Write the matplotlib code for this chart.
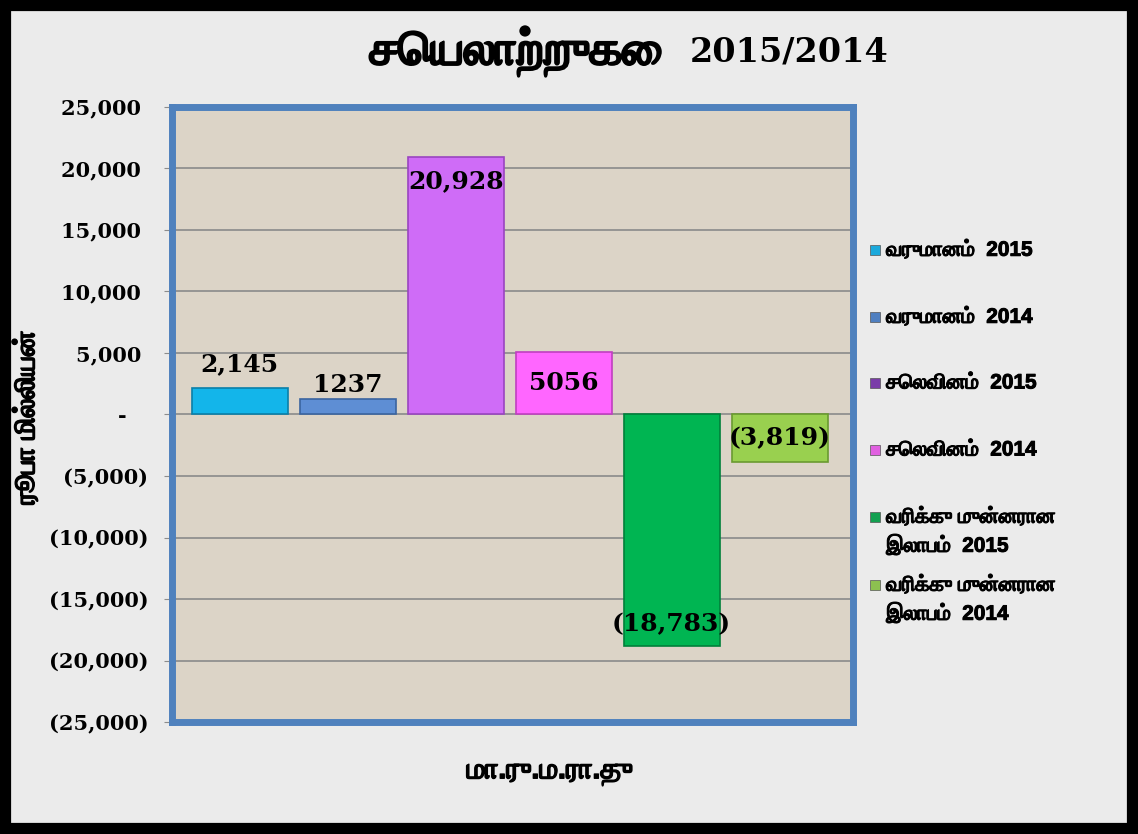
import numpy as np
import matplotlib
matplotlib.use("Agg")
import matplotlib.pyplot as plt
import matplotlib.patheffects as pe
from matplotlib import font_manager
from matplotlib.patches import Rectangle
from matplotlib.ticker import FuncFormatter

# ── Data ───────────────────────────────────────────────────────
series_names = ["வருமானம்  2015", "வருமானம்  2014", "செலவினம்  2015",
                "செலவினம்  2014", "வரிக்கு முன்னரான\nஇலாபம்  2015",
                "வரிக்கு முன்னரான\nஇலாபம்  2014"]
values = [2145, 1237, 20928, 5056, -18783, -3819]
value_labels = ["2,145", "1237", "20,928", "5056", "(18,783)", "(3,819)"]
bar_colors = ["#13B5EA", "#5E8ED4", "#CF6CF7", "#FF66FF", "#00B552", "#99D04F"]
edge_colors = ["#0A7FA8", "#3A64A0", "#9A45C0", "#C040C0", "#00803A", "#6A9A30"]
legend_colors = ["#1BA9DC", "#4F7FC0", "#7A3CA8", "#E060E0", "#12A050", "#8CC050"]
yticks = np.arange(-25000, 25001, 5000)


# ── Fonts: look for something that covers Tamil ───────────────
def find_tamil_font():
    try:
        from fontTools.ttLib import TTFont
    except Exception:
        return None
    found = []
    for f in font_manager.fontManager.ttflist:
        try:
            tt = TTFont(f.fname, fontNumber=0, lazy=True)
            cmap = tt.getBestCmap()
            if cmap and 0x0B9A in cmap:
                found.append(f)
        except Exception:
            continue
    if not found:
        return None
    bold = [f for f in found if f.weight in ("bold", 700, "heavy", 800, 900)]
    return (bold or found)[0].name


tamil = find_tamil_font()
sans = ["Liberation Sans", tamil] if tamil else ["Liberation Sans"]
serif = ["DejaVu Serif"]


def heavy(w):
    return [pe.withStroke(linewidth=w, foreground="black")]


W, H = 1138, 834

# ── Plot ───────────────────────────────────────────────────────
fig = plt.figure(figsize=(W / 100, H / 100), dpi=100, facecolor="#EBEBEB")
ax = fig.add_axes([0.151, 0.134, 0.5986, 0.738])
ax.set_facecolor("#DCD4C7")

x = np.arange(len(values))
ax.bar(x, values, width=0.89, color=bar_colors, edgecolor=edge_colors,
       linewidth=1.2, zorder=3)

ax.set_ylim(-25000, 25000)
ax.set_xlim(-0.63, 5.68)
ax.set_yticks(yticks)


def acct(v, pos):
    if v == 0:
        return "-   "
    if v < 0:
        return f"({abs(v):,.0f})"
    return f"{v:,.0f} "


ax.yaxis.set_major_formatter(FuncFormatter(acct))
for lab in ax.get_yticklabels():
    lab.set_fontfamily(serif)
    lab.set_fontweight("bold")
    lab.set_fontsize(15)
ax.tick_params(axis="y", length=6, color="#8C8C8C", pad=11)
ax.set_xticks([])
ax.grid(axis="y", color="#8A8A8A", linewidth=1.2, zorder=1)
for sp in ax.spines.values():
    sp.set_color("#4F81BD")
    sp.set_linewidth(5)

# Data labels
label_pos = [(2145, 1000, "bottom"), (1237, 150, "bottom"),
             (20928, -1000, "top"), (5056 / 2, 0, "center"),
             (-18783, 800, "bottom"), (-3819 / 2, 0, "center")]
for xi, (yv, off, va), txt in zip(x, label_pos, value_labels):
    ax.text(xi, yv + off, txt, ha="center", va=va, fontsize=18,
            fontweight="bold", family=serif, zorder=5)

# Legend (placed by hand, Excel-style spacing)
legend_y = [250, 317, 383, 450, 517, 585]
for name, c, yp in zip(series_names, legend_colors, legend_y):
    fig.patches.append(Rectangle((870 / W, 1 - (yp + 5) / H), 10 / W, 10 / H,
                                 transform=fig.transFigure, facecolor=c,
                                 edgecolor="#555555", linewidth=0.5))
    for i, line in enumerate(name.split("\n")):
        fig.text(886 / W, 1 - (yp + 28 * i) / H, line, ha="left", va="center",
                 fontsize=15, fontweight="bold", family=sans,
                 path_effects=heavy(0.7))

# Titles
fig.text(0.582, 0.938, "செயலாற்றுகை", ha="right", va="center",
         fontsize=34, fontweight="bold", family=sans, path_effects=heavy(1.4))
fig.text(0.606, 0.938, "2015/2014", ha="left", va="center",
         fontsize=24, fontweight="bold", family=serif)
fig.text(0.483, 0.074, "மா.ரு.ம.ரா.து", ha="center", va="center",
         fontsize=21, fontweight="bold", family=sans, path_effects=heavy(0.9))
fig.text(0.024, 0.499, "ரூபா மில்லியன்", ha="center", va="center",
         rotation=90, fontsize=20, fontweight="bold", family=sans,
         path_effects=heavy(0.9))

# Outer black frame
fig.patches.append(Rectangle((0, 0), 1, 1, transform=fig.transFigure,
                             fill=False, edgecolor="black", linewidth=16))

fig.savefig("out.png", dpi=100, facecolor=fig.get_facecolor())
